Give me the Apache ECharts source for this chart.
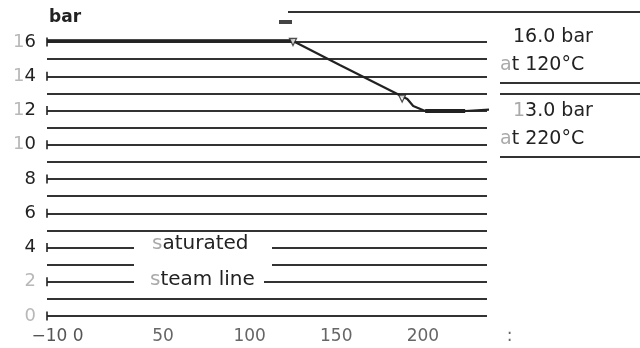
<!DOCTYPE html>
<html>
<head>
<meta charset="utf-8">
<script src="https://cdn.jsdelivr.net/npm/echarts@6/dist/echarts.min.js"></script>
<style>html,body{margin:0;padding:0;background:#fff}#c{width:640px;height:348px}</style>
</head>
<body>
<div id="c"></div>
<script>
// ---- data ----
var yTickLabels = ['0', '2', '4', '6', '8', '10', '12', '14', '16'];
var xTickLabels = ['−10 0', '50', '100', '150', '200', ':'];
var xTickValues = [0, 50, 100, 150, 200, 250];
// saturated steam line: temperature (°C) vs pressure (bar)
var curveT = [-17, 125, 152, 191, 194.4, 201.3, 224.4, 243.4];
var curveP = [16.06, 16.06, 14.66, 12.67, 12.26, 11.97, 11.97, 12.09];
var arrowT = [125, 188];
var arrowP = [16.0, 12.7];
var axisMarkP = [0, 2, 4, 6, 8, 10, 12, 14, 16];
var annotations = [
  {text: '16.0 bar', lead: '', x: 513, y: 37},
  {text: 't 120°C', lead: 'a', x: 500, y: 65},
  {text: '3.0 bar', lead: '1', x: 513, y: 111},
  {text: 't 220°C', lead: 'a', x: 500, y: 139}
];

var chart = echarts.init(document.getElementById('c'), null, {renderer: 'canvas'});
var FONT = 'DejaVu Sans';
var INK = '#222';

function xy(t, p) { return t.map(function (v, i) { return [v, p[i]]; }); }

var option = {
  animation: false,
  backgroundColor: '#fff',
  grid: [
    {left: 47, right: 153, top: 42, bottom: 32},
    {left: 76.45, right: 130.5, top: 42, bottom: 32}
  ],
  xAxis: [
    {gridIndex: 0, type: 'value', min: -17, max: 237, show: true,
      axisLine: {show: false}, axisTick: {show: false}, axisLabel: {show: false}, splitLine: {show: false}},
    {gridIndex: 1, type: 'value', min: 0, max: 250, interval: 50,
      axisLine: {show: false}, axisTick: {show: false}, splitLine: {show: false},
      axisLabel: {
        margin: 12, fontFamily: FONT, fontSize: 17, color: '#666',
        formatter: function (v) {
          var i = xTickValues.indexOf(v);
          var s = i >= 0 ? xTickLabels[i] : '';
          return i === 0 ? '{first|' + s + '}' : s;
        },
        rich: {first: {fontFamily: FONT, fontSize: 17, color: '#555', padding: [0, 38, 0, 0]}}
      }}
  ],
  yAxis: [
    {gridIndex: 0, type: 'value', min: 0, max: 16, interval: 1,
      axisLine: {show: false}, axisTick: {show: false},
      splitLine: {show: true, lineStyle: {color: '#333', width: 1.9}},
      axisLabel: {
        margin: 11, fontFamily: FONT, fontSize: 18, color: INK,
        formatter: function (v) {
          if (v % 2 !== 0) return '';
          var s = yTickLabels[v / 2];
          if (s.length === 2) return '{f|' + s[0] + '}{n|' + s[1] + '}';
          if (s === '0' || s === '2') return '{f|' + s + '}';
          return '{n|' + s + '}';
        },
        rich: {
          f: {fontFamily: FONT, fontSize: 18, color: '#b8b8b8'},
          n: {fontFamily: FONT, fontSize: 18, color: INK}
        }
      }},
    {gridIndex: 1, type: 'value', min: 0, max: 16, show: false}
  ],
  series: [
    {type: 'line', xAxisIndex: 0, yAxisIndex: 0, data: xy(curveT, curveP), symbol: 'none', clip: false,
      lineStyle: {color: '#222', width: 2.2}, z: 5},
    {type: 'line', xAxisIndex: 0, yAxisIndex: 0, data: xy([-17, 125], [16.06, 16.06]), symbol: 'none', clip: false,
      lineStyle: {color: '#222', width: 3.4}, z: 5},
    {type: 'line', xAxisIndex: 0, yAxisIndex: 0, data: xy([201.3, 224.4], [11.97, 11.97]), symbol: 'none', clip: false,
      lineStyle: {color: '#222', width: 3.8}, z: 5},
    {type: 'scatter', xAxisIndex: 0, yAxisIndex: 0, data: xy(arrowT, arrowP), symbol: 'triangle', symbolRotate: 180,
      symbolSize: 7, itemStyle: {color: '#fff', borderColor: '#222', borderWidth: 1.3}, z: 6},
    {type: 'scatter', xAxisIndex: 0, yAxisIndex: 0, data: axisMarkP.map(function (p) { return [-17, p]; }),
      symbol: 'rect', symbolSize: [2, 9], itemStyle: {color: '#222'}, clip: false, z: 6}
  ]
};
chart.setOption(option);

// annotations and scan marks (layout only)
var g = [];
function hline(x1, x2, y, w) {
  g.push({type: 'line', z: 50, shape: {x1: x1, y1: y, x2: x2, y2: y}, style: {stroke: '#333', lineWidth: w || 1.9}});
}
hline(288, 640, 12);
hline(500, 640, 83);
hline(500, 640, 94);
hline(500, 640, 157);
g.push({type: 'rect', z: 60, shape: {x: 134, y: 236, width: 138, height: 34}, style: {fill: '#fff'}});
g.push({type: 'rect', z: 60, shape: {x: 134, y: 270, width: 130, height: 18}, style: {fill: '#fff'}});
g.push({type: 'rect', z: 49, shape: {x: 279, y: 20, width: 13, height: 4}, style: {fill: '#444'}});
function txt(x, y, lead, text, size, weight) {
  g.push({type: 'text', z: 70, x: x, y: y,
    style: {text: (lead ? '{f|' + lead + '}' : '') + '{n|' + text + '}', verticalAlign: 'middle', align: 'left',
      rich: {f: {fontFamily: FONT, fontSize: size, fill: '#aaa'},
             n: {fontFamily: FONT, fontSize: size, fill: INK, fontWeight: weight || 'normal'}}}});
}
txt(49, 18, '', 'bar', 17, 'bold');
annotations.forEach(function (a) { txt(a.x, a.y, a.lead, a.text, 19); });
txt(152, 244, 's', 'aturated', 20);
txt(150, 280, 's', 'team line', 20);
chart.setOption({graphic: g});
</script>
</body>
</html>
